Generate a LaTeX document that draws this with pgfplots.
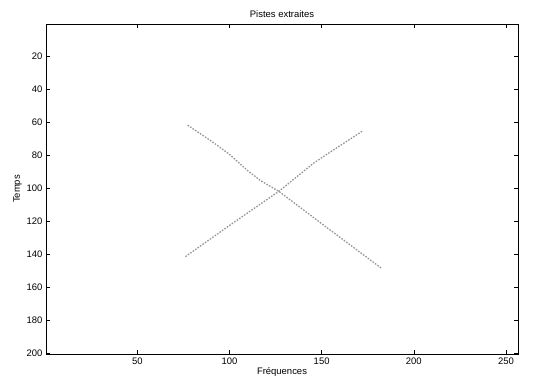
\documentclass[border=0pt]{standalone}
\usepackage{fontspec}
\setmainfont{Liberation Sans}
\usepackage{pgfplots}
\pgfplotsset{compat=1.18}
\definecolor{trk}{RGB}{150,150,150}
\begin{document}
\begin{tikzpicture}
\begin{axis}[
  name=ax,
  scale only axis,
  width=472bp, height=330bp,
  xmin=0.5, xmax=256.5, ymin=0.5, ymax=200.5,
  y dir=reverse,
  xtick={50,100,150,200,250},
  ytick={20,40,...,200},
  tick align=inside,
  major tick length=4bp,
  axis line style={black, line width=0.8pt},
  every tick/.style={black, line width=0.6pt},
  /pgf/number format/assume math mode=true,
  ticklabel style={font=\fontsize{9.5}{11}\selectfont},
  title={Pistes extraites},
  title style={font=\fontsize{9.5}{11}\selectfont, yshift=-3bp},
  xlabel={Fréquences},
  ylabel={Temps},
  label style={font=\fontsize{9.5}{11}\selectfont},
  xlabel style={yshift=4bp},
  ylabel style={yshift=-2bp},
]
\addplot[trk, line width=1.3pt, dash pattern=on 1.6pt off 1.4pt] coordinates {
 (77.3,61.8) (91.5,72.5) (100,79.5) (110,89.5) (117,95.5) (126.8,101.9) (150,121.5) (182.4,148.5)
};
\addplot[trk, line width=1.3pt, dash pattern=on 1.6pt off 1.4pt] coordinates {
 (76.1,141.5) (100.5,122.2) (126.8,101.9) (145.8,84.7) (154,78.6) (172.1,65.4)
};
\end{axis}
\pgfresetboundingbox
\path (-46bp,-31bp) rectangle (495bp,354bp);
\end{tikzpicture}
\end{document}
